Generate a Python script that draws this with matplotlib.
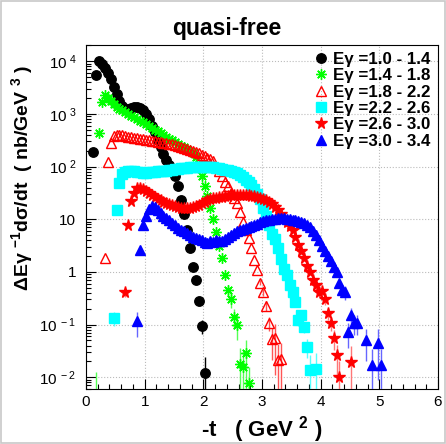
import numpy as np
import matplotlib
matplotlib.use('Agg')
import matplotlib.pyplot as plt
from matplotlib.patches import Rectangle
from matplotlib.lines import Line2D
from matplotlib.ticker import FixedLocator, FixedFormatter, LogLocator, NullFormatter, MultipleLocator

plt.rcParams['font.family'] = ['Liberation Sans', 'DejaVu Sans']
plt.rcParams['mathtext.fontset'] = 'custom'
plt.rcParams['mathtext.rm'] = 'Liberation Sans'
plt.rcParams['mathtext.it'] = 'Liberation Sans:italic'
plt.rcParams['mathtext.bf'] = 'Liberation Sans:bold'

#
# data: dsigma/dt in nb/GeV^3, bins of 0.05 GeV^2 in -t
#
labels = ['E\u03b3 =1.0 - 1.4', 'E\u03b3 =1.4 - 1.8', 'E\u03b3 =1.8 - 2.2',
          'E\u03b3 =2.2 - 2.6', 'E\u03b3 =2.6 - 3.0', 'E\u03b3 =3.0 - 3.4']

# Egamma 1.0 - 1.4  (t = 0.12 ... 2.02)
blk_t0, blk_t1 = 0.12, 2.02
blk_val = [190, 5500, 10000, 8900, 7400, 5900, 4500, 3300, 2400, 1780,
           1410, 1260, 1260, 1320, 1350, 1350, 1290, 1170, 1000, 790,
           600, 450, 316, 240, 174, 132, 107, 85, 66, 42,
           23, 12.6, 6.3, 2.8, 1.26, 0.71, 0.28, 0.095, 0.012]
blk_err = [0] * 36 + [0.15, 0.3, 1.0]

# Egamma 1.4 - 1.8  (t = 0.17 ... 2.77)
grn_t0, grn_t1 = 0.17, 2.77
grn_val = [0.003, 440, 1700, 2300, 2000, 1740, 1550, 1380, 1260, 1170, 1100,
           1000, 930, 870, 790, 740, 690, 630, 590, 550, 500,
           470, 440, 400, 370, 340, 316, 295, 270, 251, 234,
           214, 200, 178, 151, 112, 66, 42, 27.5, 16.6, 10,
           5.8, 3.16, 1.86, 0.89, 0.45, 0.30, 0.14, 0.10, 0.018, 0.016,
           0.029, 0.0079]
grn_err = [3.2] + [0] * 44 + [0.2, 0.3, 0.4, 0.5, 1.0, 1.0, 0.8, 1.0]

# Egamma 1.8 - 2.2  (t = 0.32 ... 3.32)
rtr_t0, rtr_t1 = 0.32, 3.32
rtr_val = [1.86, 123, 282, 380, 398, 398, 389, 380, 372, 363,
           355, 347, 339, 331, 324, 316, 309, 302, 295, 288,
           282, 275, 269, 263, 257, 251, 240, 229, 219, 209,
           200, 191, 178, 166, 158, 148, 138, 126, 100, 83,
           66, 52, 42, 31.6, 25.1, 20, 13.8, 8.9, 6.3, 4.5,
           2.8, 1.66, 1.10, 0.63, 0.42, 0.23, 0.107, 0.054, 0.056, 0.021,
           0.022]
rtr_err = [0] * 53 + [0.1, 0.15, 0.2, 0.3, 0.6, 0.8, 1.0, 1.0]

# Egamma 2.2 - 2.6  (t = 0.47 ... 3.82, plus 3.92)
cya_t0, cya_t1 = 0.47, 3.82
cya_val = [0.132, 15.1, 49, 72, 79, 83, 83, 81, 79, 78,
           76, 76, 78, 79, 79, 81, 83, 83, 83, 85,
           87, 89, 91, 93, 95, 95, 98, 98, 100, 100,
           100, 100, 100, 100, 98, 95, 93, 91, 87, 85,
           81, 78, 74, 69, 63, 55, 50, 45, 38, 30,
           24, 16.6, 11.7, 7.9, 5.2, 4.2, 2.9, 1.78, 1.15, 0.87,
           0.56, 0.42, 0.27, 0.12, 0.15, 0.091, 0.038, 0.0135]
cya_err = [0.3] + [0] * 59 + [0.1, 0.1, 0.15, 0.2, 0.2, 0.25, 0.4, 1.0]
cya_x_t, cya_x_val, cya_x_err = [3.92], [0.0145], [1.0]

# Egamma 2.6 - 3.0  (t = 0.67 ... 4.32, plus 4.52)
rst_t0, rst_t1 = 0.67, 4.32
rst_val = [0.42, 7.8, 22.4, 31.6, 39.8, 39.8, 37.2, 33.9, 31.6, 28.8,
           26.3, 24.5, 22.9, 21.4, 20.4, 19.5, 18.6, 17.8, 17.0, 16.6,
           16.2, 16.2, 16.6, 17.0, 17.8, 18.6, 20.0, 21.4, 22.9, 24.0,
           25.1, 25.7, 26.3, 26.9, 27.5, 28.2, 28.8, 28.8, 28.8, 28.8,
           28.8, 28.8, 28.8, 28.2, 27.5, 26.9, 25.7, 24.5, 22.9, 20.9,
           19.1, 17.0, 14.8, 12.6, 10.5, 8.9, 7.6, 6.3, 4.7, 3.3,
           2.5, 1.86, 1.32, 1.0, 0.71, 0.56, 0.42, 0.43, 0.30, 0.166,
           0.107, 0.056, 0.026, 0.010]
rst_err = [0.2] + [0] * 64 + [0.1, 0.1, 0.15, 0.2, 0.25, 0.3, 0.4, 0.6, 1.0]
rst_x_t, rst_x_val, rst_x_err = [4.52], [0.0195], [1.0]

# Egamma 3.0 - 3.4  (t = 0.87 ... 4.62, plus tail points)
blu_t0, blu_t1 = 0.87, 4.62
blu_val = [0.115, 2.63, 7.8, 11.5, 15.8, 18.2, 17.4, 15.1, 13.2, 11.7,
           10.5, 9.5, 8.5, 7.8, 6.9, 6.3, 5.9, 5.5, 5.0, 4.7,
           4.4, 4.2, 4.0, 3.7, 3.55, 3.8, 3.7, 4.0, 3.8, 3.8,
           4.2, 4.6, 5.0, 5.5, 5.9, 6.3, 6.6, 6.9, 7.2, 7.6,
           7.9, 8.3, 8.7, 9.1, 9.5, 9.8, 10.0, 10.2, 10.5, 10.5,
           10.5, 10.2, 10.0, 9.8, 9.5, 9.3, 8.9, 8.5, 7.9, 7.1,
           6.0, 5.0, 4.0, 3.16, 2.51, 2.0, 1.58, 1.26, 1.0, 0.63,
           0.46, 0.42, 0.072, 0.15, 0.107, 0.107]
blu_err = [0.5] + [0] * 65 + [0.05, 0.05, 0.1, 0.15, 0.2, 0.3, 0.5, 0.4, 0.4, 0.4]
blu_x_t = [4.77, 4.87, 4.97, 5.02]
blu_x_val = [0.051, 0.017, 0.045, 0.017]
blu_x_err = [0.6, 1.0, 0.8, 1.0]


def series(ax, t, val, err, ecolor, **kw):
  t = np.asarray(t, dtype=float)
  val = np.asarray(val, dtype=float)
  err = np.asarray(err, dtype=float)
  m = err > 0
  lo = np.minimum(err, 0.9999) * val
  hi = err * val
  if m.any():
    ax.errorbar(t[m], val[m], yerr=[lo[m], hi[m]], fmt='none',
                ecolor=ecolor, elinewidth=1.0, capsize=0, zorder=kw.get('zorder', 3) - 0.5)
  ax.plot(t, val, linestyle='none', **kw)


fig = plt.figure(figsize=(4.46, 4.44), dpi=100)
ax = fig.add_axes([86 / 446, 1 - 389 / 444, 352 / 446, 344 / 444])

blk_t = np.linspace(blk_t0, blk_t1, len(blk_val))
grn_t = np.linspace(grn_t0, grn_t1, len(grn_val))
rtr_t = np.linspace(rtr_t0, rtr_t1, len(rtr_val))
cya_t = np.concatenate([np.linspace(cya_t0, cya_t1, len(cya_val)), cya_x_t])
rst_t = np.concatenate([np.linspace(rst_t0, rst_t1, len(rst_val)), rst_x_t])
blu_t = np.concatenate([np.linspace(blu_t0, blu_t1, len(blu_val)), blu_x_t])

series(ax, blk_t, blk_val, blk_err, '#000000',
       marker='o', ms=6.8, color='black', mec='black', zorder=3)
series(ax, grn_t, grn_val, grn_err, '#55ff55',
       marker=(8, 2, 0), ms=7.5, mew=1.0, color='#00ff00', mec='#00ff00', zorder=4)
series(ax, rtr_t, rtr_val, rtr_err, '#ff5555',
       marker='^', ms=7.8, mew=1.0, mfc='none', mec='#ff0000', zorder=5)
series(ax, cya_t, cya_val + cya_x_val, cya_err + cya_x_err, '#55ffff',
       marker='s', ms=6.5, color='#00ffff', mec='#00ffff', zorder=6)
series(ax, rst_t, rst_val + rst_x_val, rst_err + rst_x_err, '#ff7777',
       marker='*', ms=8.5, color='#ff0000', mec='#ff0000', zorder=7)
series(ax, blu_t, blu_val + blu_x_val, blu_err + blu_x_err, '#6666ff',
       marker='^', ms=7.3, color='#0000ff', mec='#0000ff', zorder=8)

ax.set_yscale('log')
ax.set_xlim(0, 6)
ax.set_ylim(0.006, 2.03e4)

ax.xaxis.set_major_locator(MultipleLocator(1))
ax.xaxis.set_minor_locator(MultipleLocator(0.2))
ax.yaxis.set_major_locator(FixedLocator([1e-2, 1e-1, 1, 10, 1e2, 1e3, 1e4]))
ax.yaxis.set_major_formatter(FixedFormatter([r'$10^{\ -2}$', r'$10^{\ -1}$', '1', '10',
                                             r'$10^{\ 2}$', r'$10^{\ 3}$', r'$10^{\ 4}$']))
ax.yaxis.set_minor_locator(LogLocator(base=10, subs=np.arange(2, 10), numticks=20))
ax.yaxis.set_minor_formatter(NullFormatter())
ax.tick_params(which='both', direction='in', top=False, right=False, labelsize=11)
ax.tick_params(which='major', length=7, width=0.8)
ax.tick_params(which='minor', length=3.5, width=0.8)
ax.tick_params(axis='y', pad=7)
ax.tick_params(axis='x', pad=4)
ax.grid(True, which='major', linestyle=':', color='#bbbbbb', linewidth=0.8)
for s in ax.spines.values():
  s.set_linewidth(0.8)

handles = [
  Line2D([], [], ls='none', marker='o', ms=6.8, color='black'),
  Line2D([], [], ls='none', marker=(8, 2, 0), ms=7.5, mew=1.0, color='#00ff00'),
  Line2D([], [], ls='none', marker='^', ms=7.8, mew=1.0, mfc='none', mec='#ff0000'),
  Line2D([], [], ls='none', marker='s', ms=6.5, color='#00ffff'),
  Line2D([], [], ls='none', marker='*', ms=8.5, color='#ff0000'),
  Line2D([], [], ls='none', marker='^', ms=7.3, color='#0000ff'),
]
leg = ax.legend(handles, labels, loc='upper left', bbox_to_anchor=(313 / 446, 1 - 52 / 444),
                bbox_transform=fig.transFigure, frameon=False, borderpad=0, borderaxespad=0,
                handlelength=1.0, handletextpad=0.2, labelspacing=0.08,
                prop={'weight': 'bold', 'size': 12.2})

fig.text(227 / 446, 1 - 28 / 444, 'quasi-free', ha='center', va='center',
         fontsize=16.5, fontweight='bold')
fig.text(22 / 446, 1 - 178 / 444,
         '\u0394E\u03b3 $^{\\mathbf{-1}}$d\u03c3/dt  ( nb/GeV $^{\\mathbf{3}}$ )',
         rotation=90, ha='center', va='center', fontsize=14, fontweight='bold')
fig.text(262 / 446, 1 - 430 / 444, r'-t   ( GeV $^{\mathbf{2}}$ )',
         ha='center', va='center', fontsize=16, fontweight='bold')

fig.patches.append(Rectangle((0.003, 0.003), 0.994, 0.994, transform=fig.transFigure,
                             fill=False, ec='#c8c8c8', lw=1.2))

fig.savefig('out.png', dpi=100)
